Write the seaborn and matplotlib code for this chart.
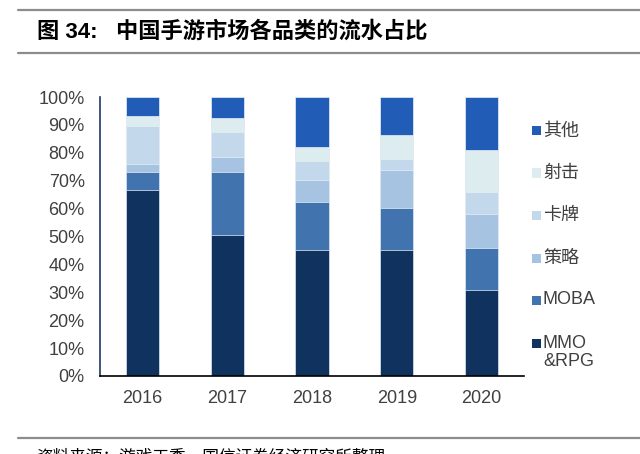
import matplotlib
matplotlib.use("Agg")
import matplotlib.pyplot as plt
import seaborn as sns
import numpy as np
import pandas as pd
from matplotlib.patches import Rectangle
from matplotlib.lines import Line2D

years = ["2016", "2017", "2018", "2019", "2020"]
mmo_rpg = [66.6, 50.4, 45.3, 45.3, 30.7]
moba = [6.6, 22.8, 16.9, 15.0, 15.3]
strategy = [2.9, 5.4, 8.1, 13.6, 12.2]
card = [13.6, 8.8, 6.9, 3.9, 7.8]
shooter = [3.6, 5.1, 4.9, 8.6, 15.0]
other = [6.7, 7.5, 17.9, 13.6, 19.0]

series_names = ["MMO\n&RPG", "MOBA", "策略", "卡牌", "射击", "其他"]
series_vals = [mmo_rpg, moba, strategy, card, shooter, other]
colors = ["#10325E", "#4173AE", "#A6C3E2", "#C4D8EC", "#DDECEE", "#215DB7"]

sns.set_style("white")
plt.rcParams['font.family'] = ['Liberation Sans', 'Noto Sans CJK SC', 'DejaVu Sans']

fig = plt.figure(figsize=(6.4, 4.54), dpi=100)
ax = fig.add_axes([100/640, 1-376/454, (524-100)/640, (376-97)/454])

cum = np.cumsum(np.array(series_vals), axis=0)
df = pd.DataFrame({"year": years})
for i in range(len(series_vals) - 1, -1, -1):
    df["v"] = cum[i]
    sns.barplot(data=df, x="year", y="v", color=colors[i], width=0.39,
                saturation=1, ax=ax, edgecolor="#E8EEF6", linewidth=0.5)

ax.set_xlim(-0.5, 4.5)
ax.set_ylim(0, 100)
ax.set_yticks(np.arange(0, 101, 10))
ax.set_yticklabels([f"{v}%" for v in range(0, 101, 10)], fontsize=13, color="#404040")
ax.set_xticks(range(5))
ax.set_xticklabels(years, fontsize=13, color="#404040")
ax.set_xticks(np.arange(-0.5, 5, 1), minor=True)
ax.tick_params(axis="x", which="major", length=0, pad=10)
ax.tick_params(axis="x", which="minor", length=5, width=1.2, color="black", direction="out")
ax.tick_params(axis="y", length=6, width=1, color="#1F3864", direction="out", pad=5)
ax.set_xlabel("")
ax.set_ylabel("")
for s in ["top", "right"]:
    ax.spines[s].set_visible(False)
ax.spines["left"].set_color("#1F3864")
ax.spines["left"].set_linewidth(1.2)
ax.spines["bottom"].set_color("black")
ax.spines["bottom"].set_linewidth(1.2)

# legend (manual)
legend_rows = [("其他", 5, 131), ("射击", 4, 173), ("卡牌", 3, 215),
               ("策略", 2, 258), ("MOBA", 1, 300), ("MMO", 0, 343)]
for label, idx, ypix in legend_rows:
    fig.patches.append(Rectangle((532/640, 1-(ypix+4.5)/454), 9/640, 9/454,
                                 transform=fig.transFigure, facecolor=colors[idx],
                                 edgecolor="none"))
    fig.text(543/640, 1-ypix/454, label, fontsize=13, color="#404040", va="center", ha="left")
fig.text(543/640, 1-361/454, "&RPG", fontsize=13, color="#404040", va="center", ha="left")

# title and rules
for ypix, x0 in [(9.5, 18), (53, 18), (438, 18)]:
    fig.add_artist(Line2D([x0/640, 1], [1-ypix/454, 1-ypix/454], transform=fig.transFigure,
                          color="#8C8C8C", linewidth=1.6))
fig.text(37/640, 1-32/454, "图 34:   中国手游市场各品类的流水占比", fontsize=16,
         fontweight="bold", color="black", va="center", ha="left")
fig.text(36/640, 1-449/454, "资料来源：游戏工委，国信证券经济研究所整理", fontsize=12,
         color="black", va="top", ha="left")

fig.savefig("out.png", dpi=100)
